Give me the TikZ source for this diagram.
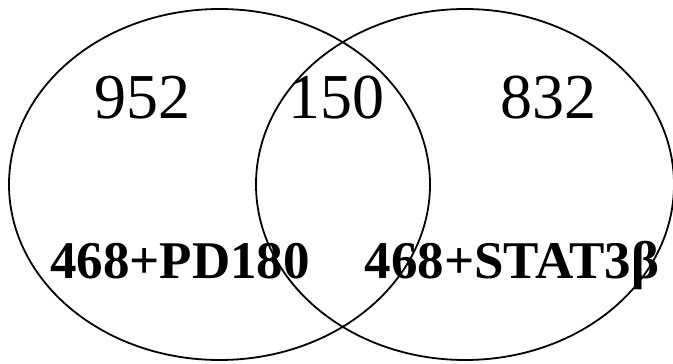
\documentclass[tikz,border=0pt]{standalone}
\usepackage{fontspec}
\setmainfont{Liberation Serif}
\begin{document}
\begin{tikzpicture}[x=1pt,y=-1pt,
  venn/.style={draw=black,line width=1.8pt},
  num/.style={anchor=base,inner sep=0pt,font=\fontsize{64}{64}\selectfont},
  lab/.style={anchor=base,inner sep=0pt,font=\bfseries\fontsize{53}{53}\selectfont}]
\useasboundingbox (0,0) rectangle (673,364);
\draw[venn] (219.5,184.5) ellipse [x radius=210.5, y radius=175.5];
\draw[venn] (465,184.5) ellipse [x radius=209, y radius=175.5];
\node[num] (a) at (142,118) {952};
\node[num] (b) at (336,118) {150};
\node[num] (c) at (548,118) {832};
\node[lab] (l) at (180,278) {468+PD180};
\node[lab] (r) at (512,278) {468+STAT3β};
\end{tikzpicture}
\end{document}
